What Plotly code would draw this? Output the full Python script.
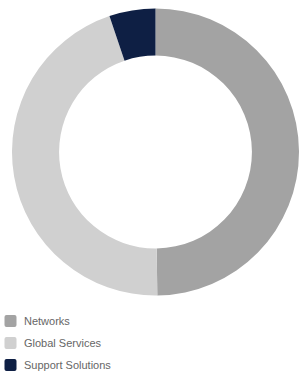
import plotly.graph_objects as go

labels = ["Networks", "Global Services", "Support Solutions"]
values = [49.8, 45.0, 5.2]
colors = ["#A3A3A3", "#D0D0D0", "#0E1F44"]

W, H = 299, 376

fig = go.Figure(go.Pie(
    labels=labels,
    values=values,
    hole=0.672,
    sort=False,
    direction="clockwise",
    rotation=0,
    textinfo="none",
    hoverinfo="label+percent",
    showlegend=False,
    marker=dict(colors=colors, line=dict(width=0)),
    domain=dict(x=[12 / W, 1.0], y=[80.5 / H, 367.5 / H]),
))

# custom legend (rounded squares + labels) built from the label/colour lists
shapes = []
annotations = []
for i, (lab, col) in enumerate(zip(labels, colors)):
    cy = 321 + 22 * i          # pixel centre from top
    x0, x1 = 4.5, 16.5
    y0, y1 = cy - 6, cy + 6
    r = 2.0
    def px(x):
        return x / W
    def py(y):
        return 1 - y / H
    path = (
        f"M {px(x0 + r)},{py(y0)} L {px(x1 - r)},{py(y0)} "
        f"Q {px(x1)},{py(y0)} {px(x1)},{py(y0 + r)} "
        f"L {px(x1)},{py(y1 - r)} Q {px(x1)},{py(y1)} {px(x1 - r)},{py(y1)} "
        f"L {px(x0 + r)},{py(y1)} Q {px(x0)},{py(y1)} {px(x0)},{py(y1 - r)} "
        f"L {px(x0)},{py(y0 + r)} Q {px(x0)},{py(y0)} {px(x0 + r)},{py(y0)} Z"
    )
    shapes.append(dict(type="path", xref="paper", yref="paper", path=path,
                       fillcolor=col, line=dict(width=0)))
    annotations.append(dict(
        x=22 / W, y=py(cy), xref="paper", yref="paper",
        xanchor="left", yanchor="middle", showarrow=False,
        text=lab,
        font=dict(family="Liberation Sans, Arial, sans-serif", size=11, color="#666666"),
    ))

fig.update_layout(
    width=W,
    height=H,
    margin=dict(l=0, r=0, t=0, b=0),
    paper_bgcolor="#FFFFFF",
    plot_bgcolor="#FFFFFF",
    showlegend=False,
    shapes=shapes,
    annotations=annotations,
)

fig.write_html(
    "out.html",
    config={"displayModeBar": False},
    post_script="document.body.style.margin='0';document.body.style.overflow='hidden';",
)
